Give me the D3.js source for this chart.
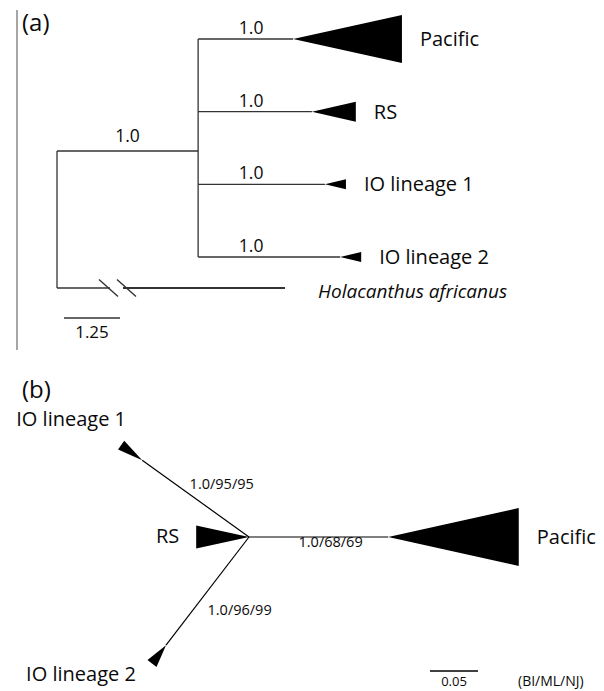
<!DOCTYPE html>
<html>
<head>
<meta charset="utf-8">
<script src="https://cdn.jsdelivr.net/npm/d3@7"></script>
<style>
  body { margin: 0; background: #fff; }
  text { font-family: "Open Sans", sans-serif; fill: #0a0a0a; }
</style>
</head>
<body>
<div id="chart"></div>
<script>
// panel (a): rooted Bayesian tree
const cladesA = ["Pacific", "RS", "IO lineage 1", "IO lineage 2"];
const stemA = [2.12, 2.54, 2.83, 3.17];     // crown node -> clade
const depthA = [2.43, 0.98, 0.47, 0.47];    // collapsed clade depth
const sizeA = [4.8, 2.0, 1.0, 1.0];         // relative clade width
const supportA = ["1.0", "1.0", "1.0", "1.0"];
const crownStemA = 3.15;
const crownSupportA = "1.0";
const outgroupA = "Holacanthus africanus";
const outgroupLenA = 5.09;
const scaleBarA = 1.25;

// panel (b): unrooted network
const cladesB = ["Pacific", "RS", "IO lineage 1", "IO lineage 2"];
const stemB = [0.145, 0, 0.137, 0.142];
const depthB = [0.136, 0.055, 0.027, 0.024];
const sizeB = [5.8, 2.3, 1.06, 1.14];
const angleB = [0, 180, 215.7, 127.5];
const supportB = ["1.0/68/69", "", "1.0/95/95", "1.0/96/99"];
const scaleBarB = 0.05;
const supportKeyB = "(BI/ML/NJ)";

const svg = d3.select("#chart")
.append("svg")
.attr("width", 604)
.attr("height", 691);

// ---------- panel (a) ----------
const xA = d3.scaleLinear().domain([0, 1]).range([57, 57 + 44.8]);
const yA = d3.scalePoint().domain(cladesA).range([39, 257]);
const wA = d3.scaleLinear().domain([0, 1]).range([0, 5]);
const outY = 288;
const crownX = xA(crownStemA);

svg.append("line")
.attr("x1", 17).attr("x2", 17).attr("y1", 10).attr("y2", 350)
.attr("stroke", "#888").attr("stroke-width", 1.5);

svg.append("text").attr("x", 22).attr("y", 31)
.attr("font-size", 24).text("(a)");

const gA = svg.append("g")
.attr("stroke", "#333").attr("stroke-width", 1.3).attr("fill", "none");

// root vertical + crown stem
gA.append("line").attr("x1", xA(0)).attr("x2", xA(0)).attr("y1", yA(cladesA[0]) + 112).attr("y2", outY);
gA.append("line").attr("x1", xA(0)).attr("x2", crownX).attr("y1", yA(cladesA[0]) + 112).attr("y2", yA(cladesA[0]) + 112);
gA.append("line").attr("x1", crownX).attr("x2", crownX).attr("y1", yA(cladesA[0])).attr("y2", yA(cladesA[3]));

gA.selectAll(".stemA")
.data(cladesA)
.join("line")
.attr("class", "stemA")
.attr("x1", crownX)
.attr("x2", (d, i) => crownX + xA(stemA[i]) - xA(0))
.attr("y1", d => yA(d))
.attr("y2", d => yA(d));

svg.selectAll(".triA")
.data(cladesA)
.join("path")
.attr("class", "triA")
.attr("fill", "#000")
.attr("d", (d, i) => {
    let tx = crownX + xA(stemA[i]) - xA(0);
    let bx = tx + xA(depthA[i]) - xA(0);
    let y = yA(d), h = wA(sizeA[i]);
    return `M${tx},${y}L${bx},${y - h}L${bx},${y + h}Z`;
});

svg.selectAll(".labA")
.data(cladesA)
.join("text")
.attr("class", "labA")
.attr("font-size", 20)
.attr("x", (d, i) => crownX + xA(stemA[i] + depthA[i]) - xA(0) + 18)
.attr("y", d => yA(d) + 7)
.text(d => d);

svg.selectAll(".supA")
.data(cladesA)
.join("text")
.attr("class", "supA")
.attr("font-size", 17.5)
.attr("text-anchor", "middle")
.attr("x", crownX + 53)
.attr("y", d => yA(d) - 5)
.text((d, i) => supportA[i]);

svg.append("text")
.attr("font-size", 17.5).attr("text-anchor", "middle")
.attr("x", (xA(0) + crownX) / 2).attr("y", yA(cladesA[0]) + 103)
.text(crownSupportA);

// outgroup with break marks
const outEnd = xA(outgroupLenA);
gA.append("line").attr("x1", xA(0)).attr("x2", 110).attr("y1", outY).attr("y2", outY);
gA.append("line").attr("x1", 123).attr("x2", outEnd).attr("y1", outY).attr("y2", outY).attr("stroke-width", 2);
[108.5, 126.5].forEach(cx => {
    gA.append("line")
    .attr("x1", cx - 9.5).attr("y1", outY - 8.5)
    .attr("x2", cx + 9.5).attr("y2", outY + 8.5)
    .attr("stroke-width", 1.4);
});
svg.append("text")
.attr("x", outEnd + 33).attr("y", outY + 10)
.attr("font-size", 19).attr("font-style", "italic")
.text(outgroupA);

// scale bar
svg.append("line")
.attr("x1", 64).attr("x2", 64 + xA(scaleBarA) - xA(0))
.attr("y1", 318).attr("y2", 318)
.attr("stroke", "#333").attr("stroke-width", 1.3);
svg.append("text")
.attr("x", 64 + (xA(scaleBarA) - xA(0)) / 2).attr("y", 338)
.attr("font-size", 17).attr("text-anchor", "middle")
.text(scaleBarA);

// ---------- panel (b) ----------
const rB = d3.scaleLinear().domain([0, scaleBarB]).range([0, 48]);
const wB = d3.scaleLinear().domain([0, 1]).range([0, 5]);
const cx = 249, cy = 537;

svg.append("text").attr("x", 22).attr("y", 398)
.attr("font-size", 24).text("(b)");

const nodesB = cladesB.map((d, i) => {
    let a = angleB[i] * Math.PI / 180;
    let ux = Math.cos(a), uy = Math.sin(a);
    let tip = [cx + ux * rB(stemB[i]), cy + uy * rB(stemB[i])];
    let base = [tip[0] + ux * rB(depthB[i]), tip[1] + uy * rB(depthB[i])];
    let h = wB(sizeB[i]);
    return {name: d, tip, base, h, ux, uy,
        mid: [(cx + tip[0]) / 2, (cy + tip[1]) / 2]};
});

svg.selectAll(".stemB")
.data(nodesB)
.join("line")
.attr("class", "stemB")
.attr("stroke", "#000").attr("stroke-width", 1.2)
.attr("x1", cx).attr("y1", cy)
.attr("x2", d => d.tip[0]).attr("y2", d => d.tip[1]);

svg.selectAll(".triB")
.data(nodesB)
.join("path")
.attr("class", "triB")
.attr("fill", "#000")
.attr("d", d => {
    let px = -d.uy * d.h, py = d.ux * d.h;
    return `M${d.tip[0]},${d.tip[1]}L${d.base[0] + px},${d.base[1] + py}L${d.base[0] - px},${d.base[1] - py}Z`;
});

// clade labels, offsets from each triangle's base
const labOffB = [[18, 7, "start"], [-17, 6, "end"], [-50, -19, "middle"], [-71, 18, "middle"]];
svg.selectAll(".labB")
.data(nodesB)
.join("text")
.attr("class", "labB")
.attr("font-size", 20)
.attr("x", (d, i) => d.base[0] + labOffB[i][0])
.attr("y", (d, i) => d.base[1] + labOffB[i][1])
.attr("text-anchor", (d, i) => labOffB[i][2])
.text(d => d.name);

const supOffB = [[12, 10, "middle"], [0, 0, "start"], [-6, -10, "start"], [0, 24, "start"]];
svg.selectAll(".supB")
.data(nodesB)
.join("text")
.attr("class", "supB")
.attr("font-size", 14.5)
.attr("x", (d, i) => d.mid[0] + supOffB[i][0])
.attr("y", (d, i) => d.mid[1] + supOffB[i][1])
.attr("text-anchor", (d, i) => supOffB[i][2])
.text((d, i) => supportB[i]);

svg.append("line")
.attr("x1", 430).attr("x2", 430 + rB(scaleBarB))
.attr("y1", 671).attr("y2", 671)
.attr("stroke", "#000").attr("stroke-width", 1.6);
svg.append("text")
.attr("x", 430 + rB(scaleBarB) / 2).attr("y", 686)
.attr("font-size", 13).attr("text-anchor", "middle")
.text(scaleBarB.toFixed(2));
svg.append("text")
.attr("x", 518).attr("y", 686)
.attr("font-size", 14)
.text(supportKeyB);
</script>
</body>
</html>
